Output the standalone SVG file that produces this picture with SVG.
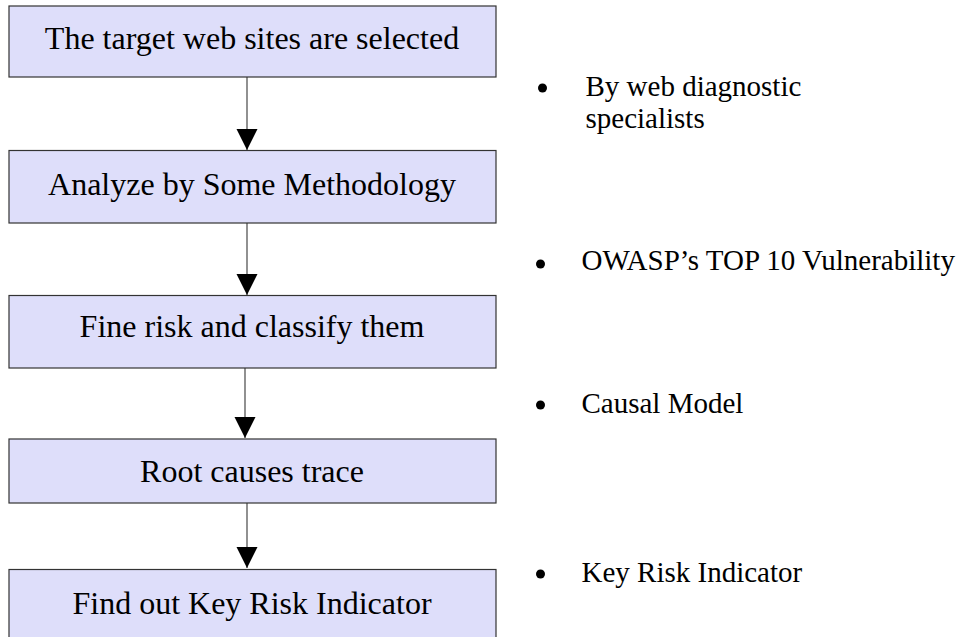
<svg xmlns="http://www.w3.org/2000/svg" width="970" height="637" viewBox="0 0 970 637">
<style>
.box{fill:#dedefa;stroke:#333;stroke-width:1.2}
.lbl{font-family:"Liberation Serif","Times New Roman",serif;font-size:32px;fill:#000;text-anchor:middle}
.note{font-family:"Liberation Serif","Times New Roman",serif;font-size:29px;fill:#000}
.conn{stroke:#555;stroke-width:1.3;fill:none}
.dot{fill:#000}
</style>
<defs>
<marker id="ah" markerUnits="userSpaceOnUse" markerWidth="22" markerHeight="22" refX="21" refY="10.5" orient="auto">
<path d="M0,0 L21,10.5 L0,21 Z" fill="#000"/>
</marker>
</defs>
<rect width="970" height="637" fill="#fff"/>
<g id="connectors">
<line class="conn" x1="247" y1="77" x2="247" y2="150" marker-end="url(#ah)"/>
<line class="conn" x1="247" y1="223" x2="247" y2="295" marker-end="url(#ah)"/>
<line class="conn" x1="245" y1="368" x2="245" y2="438" marker-end="url(#ah)"/>
<line class="conn" x1="247" y1="503" x2="247" y2="568" marker-end="url(#ah)"/>
</g>
<g id="n1"><rect class="box" x="9" y="6" width="487" height="71"/><text class="lbl" x="252" y="49">The target web sites are selected</text></g>
<g id="n2"><rect class="box" x="9" y="150.5" width="487" height="72.5"/><text class="lbl" x="252" y="195">Analyze by Some Methodology</text></g>
<g id="n3"><rect class="box" x="9" y="295.5" width="487" height="72.5"/><text class="lbl" x="252" y="337">Fine risk and classify them</text></g>
<g id="n4"><rect class="box" x="9" y="439" width="487" height="64"/><text class="lbl" x="252" y="482">Root causes trace</text></g>
<g id="n5"><rect class="box" x="9" y="569.5" width="487" height="80"/><text class="lbl" x="252" y="614">Find out Key Risk Indicator</text></g>
<g id="notes">
<circle class="dot" cx="542.5" cy="88" r="4.5"/>
<text class="note" x="585.5" y="96">By web diagnostic</text>
<text class="note" x="585.5" y="128">specialists</text>
<circle class="dot" cx="540.5" cy="264" r="4.5"/>
<text class="note" x="581.5" y="270">OWASP’s TOP 10 Vulnerability</text>
<circle class="dot" cx="540.5" cy="405" r="4.5"/>
<text class="note" x="581.5" y="413">Causal Model</text>
<circle class="dot" cx="540.5" cy="574" r="4.5"/>
<text class="note" x="581.5" y="582">Key Risk Indicator</text>
</g>
</svg>
